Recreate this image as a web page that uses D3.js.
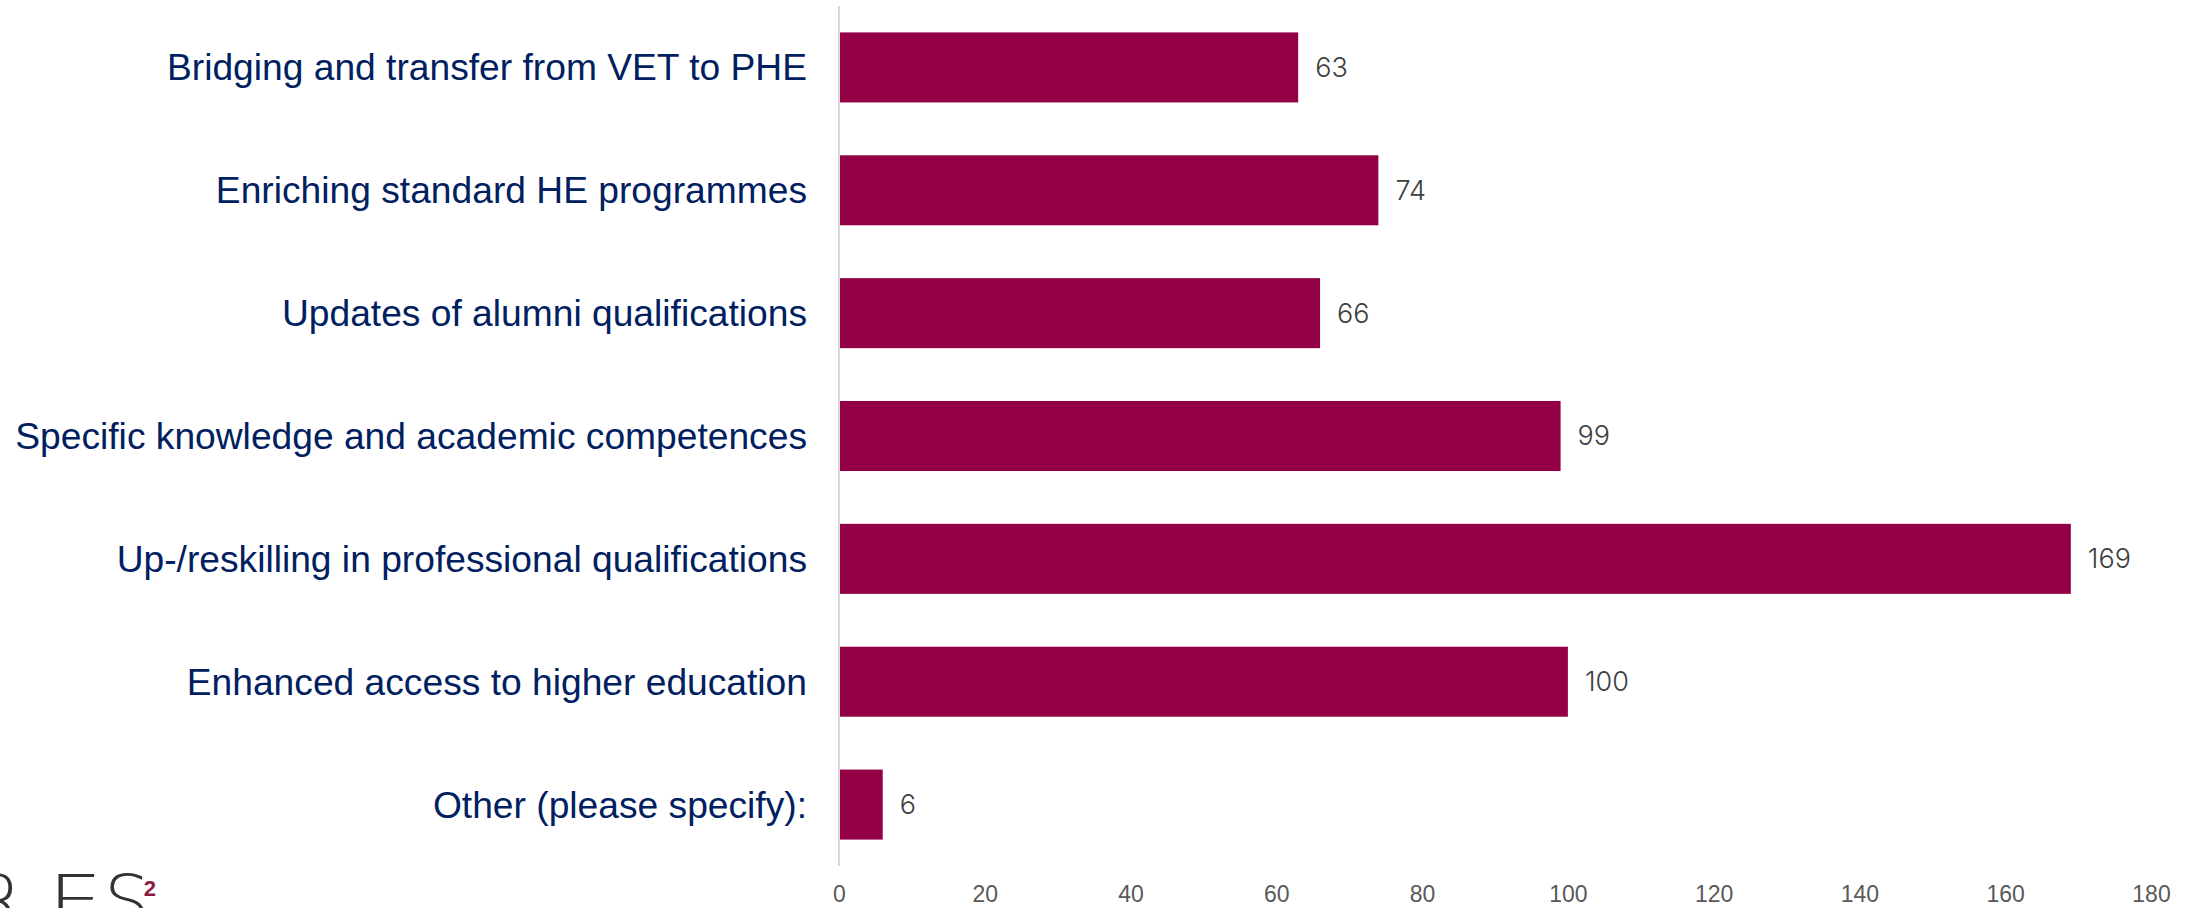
<!DOCTYPE html>
<html>
<head>
<meta charset="utf-8">
<script src="https://cdn.jsdelivr.net/npm/d3@7"></script>
<style>
  body { margin: 0; background: #fff; overflow: hidden; }
</style>
</head>
<body>
<div id="chart"></div>
<script>
// data
var categories = [
    "Bridging and transfer from VET to PHE",
    "Enriching standard HE programmes",
    "Updates of alumni qualifications",
    "Specific knowledge and academic competences",
    "Up-/reskilling in professional qualifications",
    "Enhanced access to higher education",
    "Other (please specify):"
];
var counts = [63, 74, 66, 99, 169, 100, 6];
var xTicks = [0, 20, 40, 60, 80, 100, 120, 140, 160, 180];

var width = 2190, height = 908;

var svg = d3.select("#chart").append("svg")
            .attr("width", width)
            .attr("height", height);

var x = d3.scaleLinear()
          .domain([0, 180])
          .range([839, 2151]);

var y = d3.scaleBand()
          .domain(categories)
          .range([6, 866])
          .paddingInner(0.43)
          .paddingOuter(0.215);

// bars
svg.append("g")
   .selectAll("rect")
   .data(counts)
   .enter()
   .append("rect")
   .attr("x", x(0))
   .attr("y", (d, i) => y(categories[i]))
   .attr("width", d => x(d) - x(0))
   .attr("height", y.bandwidth())
   .attr("fill", "#940046");

// vertical axis line
svg.append("line")
   .attr("x1", x(0)).attr("x2", x(0))
   .attr("y1", y.range()[0]).attr("y2", y.range()[1])
   .attr("stroke", "#d9d9d9")
   .attr("stroke-width", 2);

// category labels
svg.append("g")
   .selectAll("text")
   .data(categories)
   .enter()
   .append("text")
   .attr("x", x(0) - 32)
   .attr("y", d => y(d) + y.bandwidth() / 2)
   .attr("dy", "0.35em")
   .attr("text-anchor", "end")
   .attr("font-family", "Arial, 'Liberation Sans', sans-serif")
   .attr("font-size", 37.2)
   .attr("fill", "#002060")
   .text(d => d);

// value labels
svg.append("g")
   .selectAll("text")
   .data(counts)
   .enter()
   .append("text")
   .attr("x", d => x(d) + 17)
   .attr("y", (d, i) => y(categories[i]) + y.bandwidth() / 2)
   .attr("dy", "0.35em")
   .attr("font-family", "Inter, Lato, sans-serif")
   .attr("font-weight", 300)
   .attr("font-size", 27)
   .attr("fill", "#404040")
   .text(d => d);

// x axis ticks
var xAxis = svg.append("g")
   .attr("transform", "translate(0,879)")
   .call(d3.axisBottom(x).tickValues(xTicks).tickSize(0).tickPadding(7));
xAxis.select(".domain").remove();
xAxis.selectAll("text")
     .attr("font-family", "Arial, 'Liberation Sans', sans-serif")
     .attr("font-size", 23)
     .attr("fill", "#595959");

// logo, bottom left (cut by the edge)
var logo = svg.append("g")
              .attr("font-family", "'DejaVu Sans', sans-serif")
              .attr("font-size", 72)
              .attr("font-weight", 200)
              .attr("fill", "#333");
logo.append("text")
    .attr("x", -27).attr("y", 926)
    .text("R");
logo.append("text")
    .attr("transform", "translate(48,926) scale(1.2,1)")
    .text("E");
var s = logo.append("text")
    .attr("x", 104).attr("y", 926)
    .text("S");
s.append("tspan")
    .attr("dx", -6)
    .attr("dy", -30)
    .attr("font-size", 22)
    .attr("font-weight", 700)
    .attr("font-family", "Arial, 'Liberation Sans', sans-serif")
    .attr("fill", "#8b1a3c")
    .text("2");
</script>
</body>
</html>
